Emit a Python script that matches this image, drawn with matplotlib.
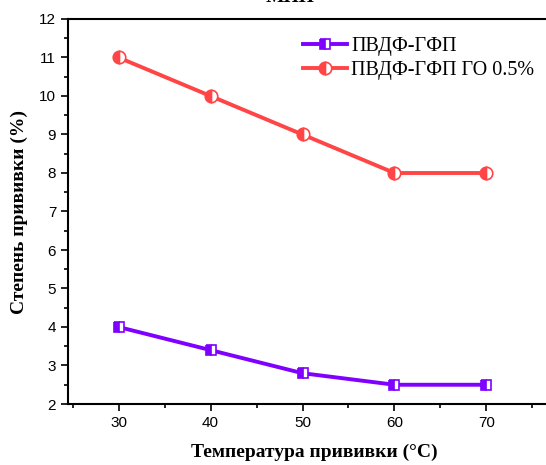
import matplotlib
matplotlib.use('Agg')
import matplotlib.pyplot as plt
from matplotlib.ticker import MultipleLocator

# data
temps = [30, 40, 50, 60, 70]
pvdf = [4.0, 3.4, 2.8, 2.5, 2.5]
pvdf_go = [11.0, 10.0, 9.0, 8.0, 8.0]
labels = ['ПВДФ-ГФП', 'ПВДФ-ГФП ГО 0.5%']

purple = '#8000ff'
red = '#ff4545'

fig = plt.figure(figsize=(5.46, 4.65), dpi=100)
ax = fig.add_axes([68 / 546, 61 / 465, 492 / 546, 385 / 465])

ax.plot(temps, pvdf, '-s', color=purple, lw=2.8, ms=7.5, fillstyle='left',
        markerfacecoloralt='white', markeredgecolor=purple, mew=1.2, label=labels[0])
ax.plot(temps, pvdf_go, '-o', color=red, lw=2.8, ms=9, fillstyle='left',
        markerfacecoloralt='white', markeredgecolor=red, mew=1.2, label=labels[1])

ax.set_xlim(24.5, 78)
ax.set_ylim(2, 12)
ax.xaxis.set_major_locator(MultipleLocator(10))
ax.xaxis.set_minor_locator(MultipleLocator(5))
ax.yaxis.set_major_locator(MultipleLocator(1))
ax.yaxis.set_minor_locator(MultipleLocator(0.5))
ax.tick_params(which='major', direction='out', length=5, width=1.2, labelsize=11)
ax.tick_params(which='minor', direction='out', length=3, width=1.2)
for lab in ax.get_xticklabels() + ax.get_yticklabels():
    lab.set_family('Liberation Sans')
for s in ax.spines.values():
    s.set_linewidth(1.5)

serif_b = dict(family='Liberation Serif', weight='bold', size=14)
ax.set_xlabel('Температура прививки (°C)', labelpad=10, **serif_b)
ax.set_ylabel('Степень прививки (%)', labelpad=8, **serif_b)

# title is cut off by the top edge in the original
fig.text(290 / 546, 1.005, 'МИП', ha='center', va='center', **serif_b)

leg = ax.legend(loc='upper left', bbox_to_anchor=(0.44, 1.0), frameon=False,
                prop={'family': 'Liberation Serif', 'size': 14.5},
                handlelength=2.2, handletextpad=0.2, labelspacing=0.25)

fig.savefig('out.png', dpi=100)
